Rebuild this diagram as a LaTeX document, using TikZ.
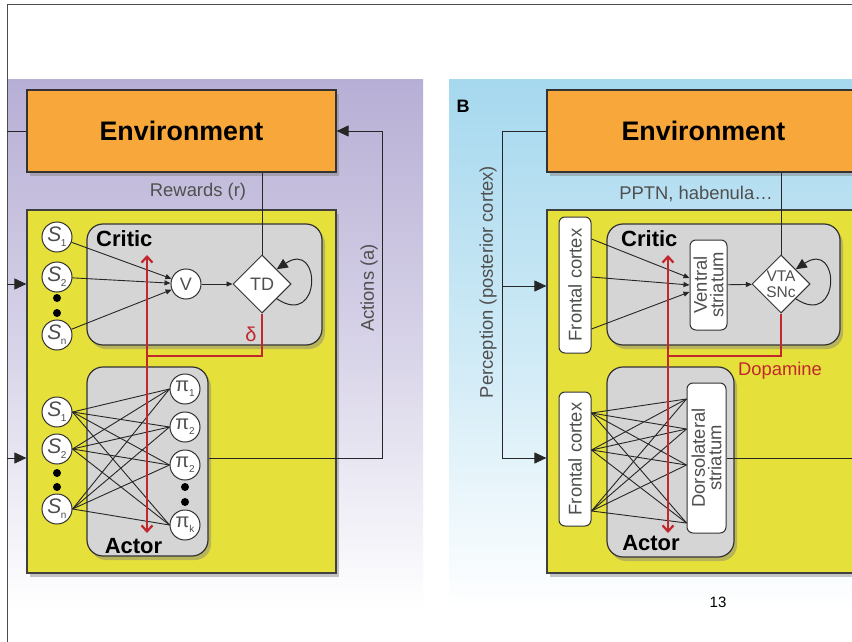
\documentclass[tikz,border=0pt]{standalone}
\usepackage{fontspec}
\setmainfont{Liberation Sans}
\usetikzlibrary{arrows.meta,shapes.geometric,shadows,calc}
\definecolor{lav}{HTML}{B7AFD5}
\definecolor{sky}{HTML}{A6D8EE}
\definecolor{envorange}{HTML}{F8A73A}
\definecolor{ybox}{HTML}{E6E03A}
\definecolor{gbox}{HTML}{D5D5D5}
\definecolor{dred}{HTML}{C1272D}
\definecolor{txtgray}{HTML}{4F4F4F}
\newcommand\slab[1]{{\fontsize{21}{21}\selectfont\itshape S}\kern-0.5pt\raisebox{-5pt}{\fontsize{10}{10}\selectfont #1}}
\newcommand\plab[1]{{\fontsize{20}{20}\selectfont π}\raisebox{-5pt}{\fontsize{10}{10}\selectfont #1}}
\begin{document}
\begin{tikzpicture}[x=1pt,y=-1pt,
 shad/.style={drop shadow={opacity=0.45,shadow xshift=3pt,shadow yshift=-4pt}},
 envbox/.style={draw=black!80, line width=1.2pt, fill=envorange, shad, minimum height=82pt, font=\fontsize{26.8}{30}\selectfont\bfseries, inner sep=0pt},
 agentbox/.style={draw=black!75, line width=1.2pt, fill=ybox, shad, inner sep=0pt},
 modbox/.style={draw=black!80, line width=1.2pt, fill=gbox, rounded corners=16pt, shad, inner sep=0pt},
 unit/.style={circle, draw=black!80, line width=1pt, fill=white, minimum size=30pt, inner sep=0pt, text=txtgray},
 tdnode/.style={diamond, draw=black!80, line width=1pt, fill=white, minimum width=58pt, minimum height=58pt, inner sep=0pt, text=txtgray, align=center},
 area/.style={rectangle, rounded corners=6pt, draw=black!80, line width=1pt, fill=white, inner sep=0pt, text=txtgray, font=\fontsize{18.4}{19}\selectfont},
 dotnode/.style={circle, fill=black, minimum size=8pt, inner sep=0pt},
 wire/.style={draw=black!85, line width=0.9pt},
 warrow/.style={wire, -{Triangle[length=6pt,width=5pt]}},
 bigarrow/.style={draw=black!85, line width=1pt, -{Triangle[length=12pt,width=11pt]}},
 redline/.style={draw=dred, line width=2.2pt},
 redarrows/.style={redline, {Straight Barb[length=6pt,width=11pt]}-{Straight Barb[length=6pt,width=11pt]}},
 lbl/.style={text=txtgray, font=\fontsize{18.4}{20}\selectfont, inner sep=0pt},
 ttl/.style={font=\fontsize{22}{24}\selectfont\bfseries, inner sep=0pt}]
\useasboundingbox (0,0) rectangle (852,642);
\clip (0,0) rectangle (852,642);
\fill[white] (0,0) rectangle (852,642);
% backgrounds
\shade[top color=lav, bottom color=white, middle color=lav!55] (7,80) rectangle (423,610);
\shade[top color=sky, bottom color=white, middle color=sky!55] (449,80) rectangle (860,610);
% frame
\draw[draw=black!70, line width=1pt] (852,5) -- (7,5) -- (7,642);

% ================= Panel A =================
\node[envbox, minimum width=309pt] (envA) at (181.5,131) {Environment};
\node[agentbox, minimum width=309pt, minimum height=363pt] (agA) at (181.5,391.5) {};
\node[modbox, minimum width=235pt, minimum height=121pt] (criticA) at (204.5,284.5) {};
\node[modbox, minimum width=121pt, minimum height=189pt] (actorA) at (147.5,461.5) {};
\node[ttl, anchor=west] (critA) at (96,239) {Critic};
\node[ttl] (actA) at (133.5,546) {Actor};

\node[unit] (s1a) at (57,237) {\slab{1}};
\node[unit] (s2a) at (57,277) {\slab{2}};
\node[dotnode] (da1) at (57,298) {};
\node[dotnode] (da2) at (57,313) {};
\node[unit] (sna) at (57,335) {\slab{n}};
\node[unit, font=\fontsize{18}{18}\selectfont] (v) at (186,284) {V};
\node[tdnode, font=\fontsize{18}{18}\selectfont] (td) at (262,284) {TD};

\node[unit] (s1b) at (57,412) {\slab{1}};
\node[unit] (s2b) at (57,449) {\slab{2}};
\node[dotnode] (db1) at (57,473) {};
\node[dotnode] (db2) at (57,487) {};
\node[unit] (snb) at (57,509) {\slab{n}};
\node[unit] (p1) at (185,389) {\plab{1}};
\node[unit] (p2) at (185,427) {\plab{2}};
\node[unit] (p3) at (185,465) {\plab{2}};
\node[dotnode] (dp1) at (185,487) {};
\node[dotnode] (dp2) at (185,502) {};
\node[unit] (pk) at (185,525) {\plab{k}};

\draw[warrow] (s1a) -- (v);
\draw[warrow] (s2a) -- (v);
\draw[warrow] (sna) -- (v);
\draw[warrow] (v) -- (td);
\draw[draw=black!85, line width=1pt, -{Triangle[length=11pt,width=10pt]}] (td.south east) .. controls +(45,30) and +(45,-30) .. (td.north east);
\foreach \s in {s1b,s2b,snb}
  \foreach \p in {p1,p2,p3,pk}
    \draw[wire] (\s.east) -- (\p.west);

\draw[wire] (td.north) -- (td.north |- envA.south);
\node[lbl] (rew) at (198,192) {Rewards (r)};

\coordinate (pA1) at (7,131);
\coordinate (pA2) at (7,284);
\coordinate (pA3) at (7,458);
\draw[wire] (envA.west) -- (pA1);
\draw[bigarrow] (pA2) -- (pA2 -| agA.west);
\draw[bigarrow] (pA3) -- (pA3 -| agA.west);

\coordinate (actc) at (382,458);
\draw[bigarrow] ([yshift=3.5pt]actorA.east) -- (actc) |- (envA.east);
\node[lbl, rotate=90] (actlbl) at (369,288) {Actions (a)};

\coordinate (rjA) at (147,356);
\coordinate (rtA) at (147,255);
\coordinate (rbA) at (147,533);
\draw[redline] (td.south) |- (rjA);
\draw[redarrows] (rtA) -- (rbA);
\node[text=dred, font=\fontsize{20}{20}\selectfont, inner sep=0pt] (delta) at (251,334) {δ};

% ================= Panel B =================
\node[font=\fontsize{18}{18}\selectfont\bfseries, inner sep=0pt] (blab) at (463,106) {B};
\node[envbox, minimum width=313pt] (envB) at (703.5,131) {Environment};
\node[agentbox, minimum width=323pt, minimum height=363pt] (agB) at (708.5,391.5) {};
\node[modbox, minimum width=233pt, minimum height=121pt] (criticB) at (723.5,284.5) {};
\node[modbox, minimum width=127pt, minimum height=190pt] (actorB) at (670.5,462) {};
\node[ttl, anchor=west] (critB) at (621,239) {Critic};
\node[ttl] (actB) at (651,543) {Actor};

\node[area, minimum width=32pt, minimum height=136pt] (fc1) at (575,285) {\rotatebox{90}{Frontal cortex}};
\node[area, minimum width=37pt, minimum height=90pt] (vs) at (708.5,285) {\rotatebox{90}{\shortstack{Ventral\\striatum}}};
\node[tdnode, font=\fontsize{15.5}{16}\selectfont] (vta) at (781,284) {VTA\\SNc};
\node[area, minimum width=32pt, minimum height=134pt] (fc2) at (575,459) {\rotatebox{90}{Frontal cortex}};
\node[area, minimum width=39pt, minimum height=150pt] (ds) at (706.5,458) {\rotatebox{90}{\shortstack{Dorsolateral\\striatum}}};

\draw[warrow] ([yshift=46pt]fc1.east) -- ([yshift=7pt]vs.west);
\draw[warrow] ([yshift=8pt]fc1.east) -- (vs.west);
\draw[warrow] ([yshift=-44pt]fc1.east) -- ([yshift=-7pt]vs.west);
\draw[warrow] (vs) -- (vta);
\draw[draw=black!85, line width=1pt, -{Triangle[length=11pt,width=10pt]}] (vta.south east) .. controls +(45,30) and +(45,-30) .. (vta.north east);
\foreach \a in {46,9,-52}
  \foreach \b in {59,29,-7,-65}
    \draw[wire] ([yshift=\a pt]fc2.east) -- ([yshift=\b pt]ds.west);

\draw[wire] (vta.north) -- (vta.north |- envB.south);
\node[lbl] (pptn) at (696,194) {PPTN, habenula…};

\coordinate (pB2) at (502,286);
\coordinate (pB3) at (502,458);
\draw[bigarrow] (envB.west) -| (pB3) -- (pB3 -| agB.west);
\draw[bigarrow] (pB2) -- (pB2 -| agB.west);
\node[lbl, rotate=90] (perc) at (488,282) {Perception (posterior cortex)};

\coordinate (outB) at (860,458);
\draw[wire] (ds.east) -- (outB);

\coordinate (rjB) at (668,356);
\coordinate (rtB) at (668,255);
\coordinate (rbB) at (668,533);
\draw[redline] (vta.south) |- (rjB);
\draw[redarrows] (rtB) -- (rbB);
\node[text=dred, font=\fontsize{18.4}{20}\selectfont, inner sep=0pt] (dopa) at (780,371) {Dopamine};

\node[font=\fontsize{15}{15}\selectfont, inner sep=0pt] (pagenum) at (718,602) {13};
\end{tikzpicture}
\end{document}
